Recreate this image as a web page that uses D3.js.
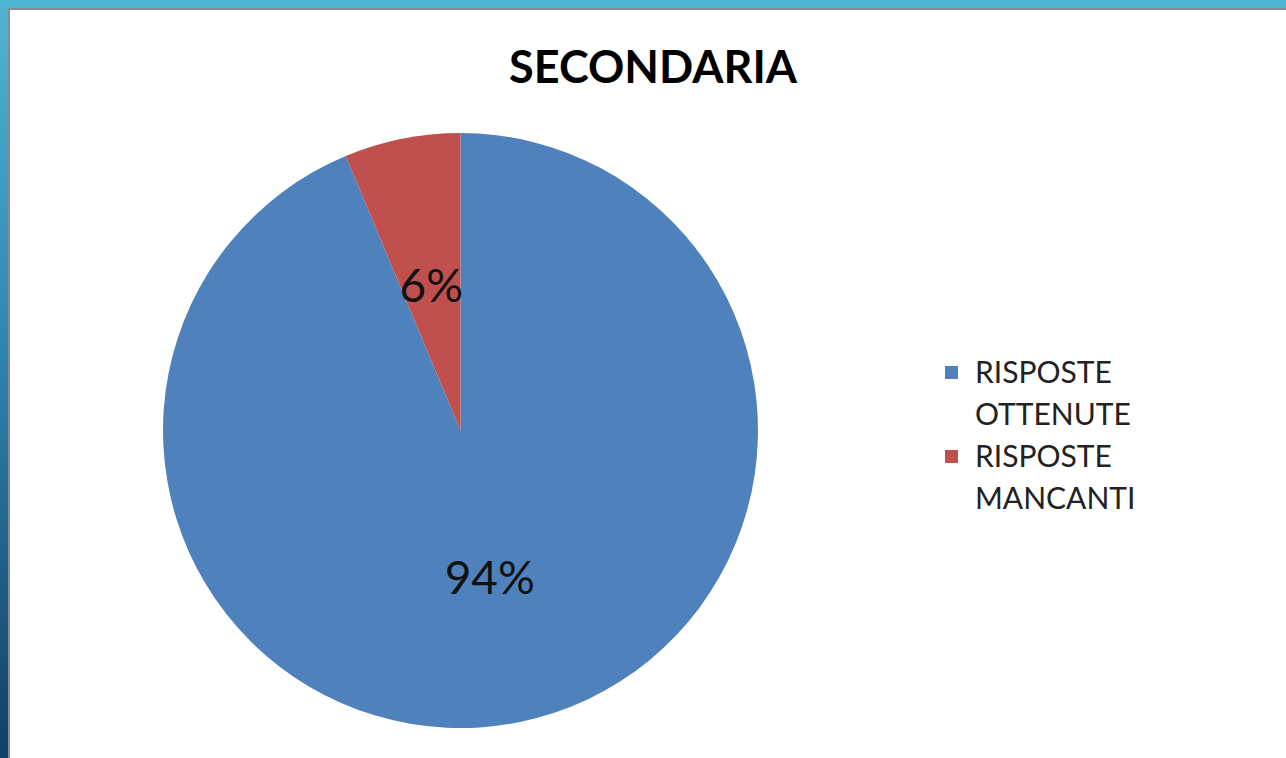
<!DOCTYPE html>
<html>
<head>
<meta charset="utf-8">
<script src="https://cdn.jsdelivr.net/npm/d3@7"></script>
<style>
  body { margin: 0; background: #fff; }
  svg { display: block; }
</style>
</head>
<body>
<div class="grafico"></div>
<script>
// dati del grafico
var categorie = ["RISPOSTE OTTENUTE", "RISPOSTE MANCANTI"];
var valori = [93.7, 6.3];
var legendaRighe = [["RISPOSTE", "OTTENUTE"], ["RISPOSTE", "MANCANTI"]];
var titolo = "SECONDARIA";

var width = 1286;
var height = 758;

var svg = d3.select(".grafico")
  .append("svg")
    .attr("width", width)
    .attr("height", height);

// cornice blu (sfondo della slide)
var defs = svg.append("defs");
var grad = defs.append("linearGradient")
  .attr("id", "bordo")
  .attr("x1", 0).attr("y1", 0).attr("x2", 0).attr("y2", 1);
grad.append("stop").attr("offset", "0%").attr("stop-color", "#4fb5d3");
grad.append("stop").attr("offset", "45%").attr("stop-color", "#2f86b0");
grad.append("stop").attr("offset", "100%").attr("stop-color", "#123f66");

svg.append("rect")
  .attr("width", width).attr("height", height)
  .attr("fill", "url(#bordo)");
svg.append("rect")
  .attr("x", 0).attr("y", 0).attr("width", width).attr("height", 9)
  .attr("fill", "#4fb5d3");
svg.append("rect")
  .attr("x", 8).attr("y", 8).attr("width", width - 8).attr("height", height - 8)
  .attr("fill", "#8a8a8a");
svg.append("rect")
  .attr("x", 10).attr("y", 10).attr("width", width - 10).attr("height", height - 10)
  .attr("fill", "#ffffff");

// titolo
svg.append("text")
  .attr("x", 653)
  .attr("y", 83)
  .attr("text-anchor", "middle")
  .style("font-family", "Lato, 'Open Sans', sans-serif")
  .style("font-weight", "bold")
  .style("font-size", "45px")
  .attr("fill", "#000")
  .text(titolo);

// torta
var color = d3.scaleOrdinal()
  .domain(categorie)
  .range(["#4f81bd", "#c0504d"]);

var totale = d3.sum(valori);
var raggio = 297.5;
var pie = d3.pie().sort(null);
var arc = d3.arc().innerRadius(0).outerRadius(raggio);
var labelArc = d3.arc().innerRadius(raggio * 0.5).outerRadius(raggio * 0.5);

var g = svg.append("g")
  .attr("transform", "translate(460.5, 430.5)");

var fette = pie(valori);

g.selectAll("path")
  .data(fette)
  .enter()
    .append("path")
    .attr("d", arc)
    .attr("fill", function(d, i){ return color(categorie[i]); });

g.selectAll("text")
  .data(fette)
  .enter()
    .append("text")
    .attr("transform", function(d){ return "translate(" + labelArc.centroid(d) + ")"; })
    .attr("text-anchor", "middle")
    .attr("dy", "0.38em")
    .style("font-family", "Lato, 'Open Sans', sans-serif")
    .style("font-size", "46px")
    .attr("fill", "#111")
    .text(function(d){ return Math.round(d.data / totale * 100) + "%"; });

// legenda
var legenda = svg.append("g")
  .attr("transform", "translate(945, 365)");

var voci = legenda.selectAll("g")
  .data(categorie)
  .enter()
    .append("g")
    .attr("transform", function(d, i){ return "translate(0," + (i * 84) + ")"; });

voci.append("rect")
  .attr("x", 0).attr("y", 1)
  .attr("width", 13).attr("height", 13)
  .attr("fill", function(d){ return color(d); });

voci.each(function(d, i){
  var t = d3.select(this).append("text")
    .attr("x", 30)
    .attr("y", 18)
    .style("font-family", "Lato, 'Open Sans', sans-serif")
    .style("font-size", "30px")
    .attr("fill", "#222");
  legendaRighe[i].forEach(function(r, j){
    t.append("tspan").attr("x", 30).attr("dy", j === 0 ? 0 : 42).text(r);
  });
});
</script>
</body>
</html>
